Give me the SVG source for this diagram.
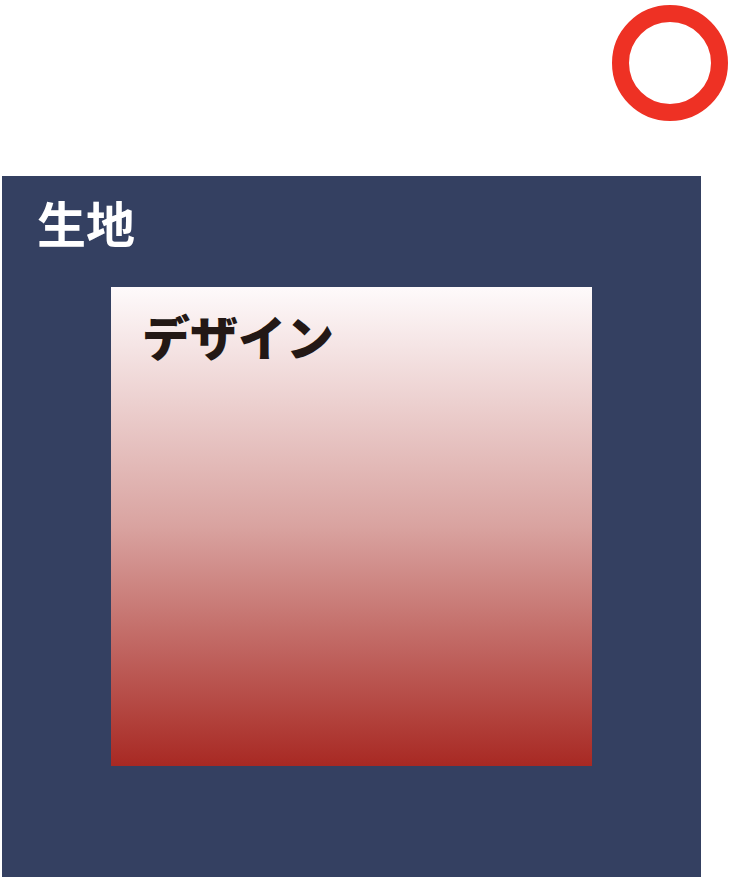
<svg xmlns="http://www.w3.org/2000/svg" width="730" height="881" viewBox="0 0 730 881">
<defs>
<style>
.lbl{font-family:"Noto Sans CJK JP","Noto Sans CJK SC",sans-serif;font-weight:bold;font-size:49px}
.dz{font-size:48px;font-weight:900}
</style>
<linearGradient id="g" x1="0" y1="0" x2="0" y2="1">
<stop offset="0" stop-color="#fefafb"/>
<stop offset="0.5" stop-color="#d9a3a0"/>
<stop offset="1" stop-color="#a82923"/>
</linearGradient>
</defs>
<rect width="730" height="881" fill="#ffffff"/>
<g id="mark">
<circle cx="670" cy="63" r="49.5" fill="none" stroke="#ee3124" stroke-width="17"/>
</g>
<g id="fabric">
<rect x="2" y="176" width="699" height="701" fill="#344061"/>
<text class="lbl" x="37" y="243" fill="#ffffff">生地</text>
</g>
<g id="design">
<rect x="111" y="287" width="481" height="479" fill="url(#g)"/>
<text class="lbl dz" x="142" y="356" fill="#231815">デザイン</text>
</g>
<g id="connectors"/>
</svg>
